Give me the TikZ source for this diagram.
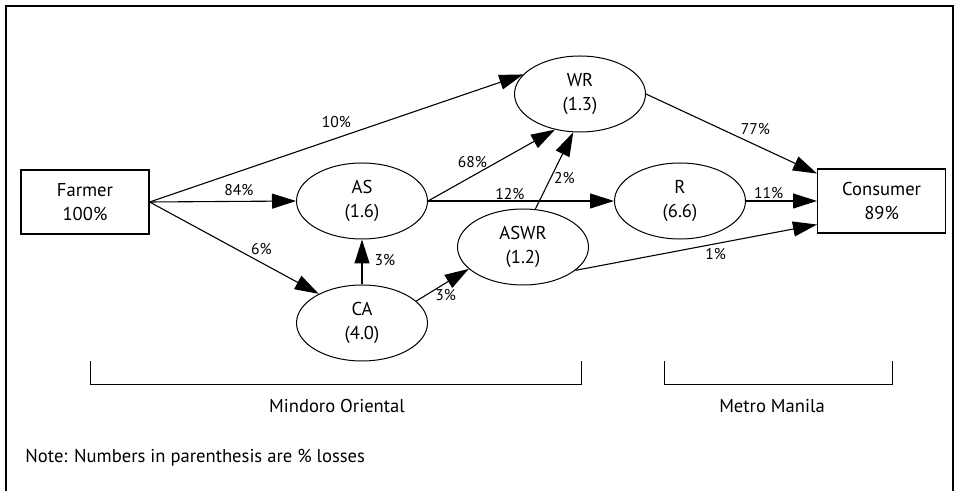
\documentclass[tikz,border=0pt]{standalone}
\usepackage{fontspec}
\setmainfont{PT Sans}
\usetikzlibrary{shapes.geometric, arrows.meta, positioning}

\begin{document}
\begin{tikzpicture}[
    x=0.5pt, y=-0.5pt,
    stage/.style={ellipse, draw=black, line width=0.5pt, minimum width=65.5pt, minimum height=38pt, inner sep=0pt, align=center, font=\fontsize{9.3}{12}\selectfont},
    io/.style={rectangle, draw=black, line width=0.6pt, minimum width=64pt, minimum height=32pt, inner sep=0pt, align=center, font=\fontsize{9.3}{12}\selectfont},
    arrow/.style={-{Triangle[length=12pt, width=7.5pt]}, line width=0.55pt},
    pct/.style={font=\fontsize{7.8}{9}\selectfont, inner sep=1.5pt},
    region/.style={font=\fontsize{9.3}{12}\selectfont}
]
\useasboundingbox (0,0) rectangle (960,491);
% outer frame, open at the bottom
\draw [line width=0.75pt] (6,491) -- (6,6) -- (953,6) -- (953,491);

\node (farmer) [io] at (85,202) {Farmer\\100\%};
\node (as) [stage] at (362,201) {AS\\(1.6)};
\node (wr) [stage] at (580,94) {WR\\(1.3)};
\node (aswr) [stage] at (523,247) {ASWR\\(1.2)};
\node (ca) [stage, below=22.5pt of as] {CA\\(4.0)};
\node (r) [stage, right=93pt of as] {R\\(6.6)};
\node (consumer) [io, right=35.5pt of r] {Consumer\\89\%};

\draw [arrow] (farmer.east) -- (wr.161) node [pct, pos=0.5, above=3.5pt] (l10) {10\%};
\draw [arrow] (farmer.east) -- (as.west) node [pct, pos=0.61, above=1pt] (l84) {84\%};
\draw [arrow] (farmer.east) -- (ca.146) node [pct, pos=0.66, above=2pt] (l6) {6\%};
\draw [arrow] (as.east) -- (wr.235) node [pct, pos=0.35, above=2.5pt] (l68) {68\%};
\draw [arrow] (as.east) -- (r.west) node [pct, pos=0.44, above=-1pt] (l12) {12\%};
\draw [arrow] (aswr.72) -- (wr.260) node [pct, pos=0.4, right=0pt] (l2) {2\%};
\draw [arrow] (ca.north) -- (as.south) node [pct, pos=0.55, right=4.5pt] (l3a) {3\%};
\draw [arrow] (ca.22) -- (aswr.202) node [pct, pos=0.56, below=1.5pt] (l3b) {3\%};
\draw [arrow] (aswr.336) -- (consumer.200.7) node [pct, pos=0.58, below=0.5pt] (l1) {1\%};
\draw [arrow] (r.east) -- (consumer.west) node [pct, pos=0.32, above=-0.5pt] (l11) {11\%};
\draw [arrow] (wr.east) -- (consumer.157) node [pct, pos=0.64, above=3.5pt] (l77) {77\%};

% regions
\draw [line width=0.5pt] (90,361) -- (90,385) -- (581,385) -- (581,361);
\draw [line width=0.5pt] (664,361) -- (664,385) -- (892,385) -- (892,361);
\node (mindoro) [region] at (337,406) {Mindoro Oriental};
\node (manila) [region] at (772,406) {Metro Manila};
\node (note) [region, anchor=west, inner sep=0pt] at (25,458) {Note: Numbers in parenthesis are \% losses};
\end{tikzpicture}
\end{document}
